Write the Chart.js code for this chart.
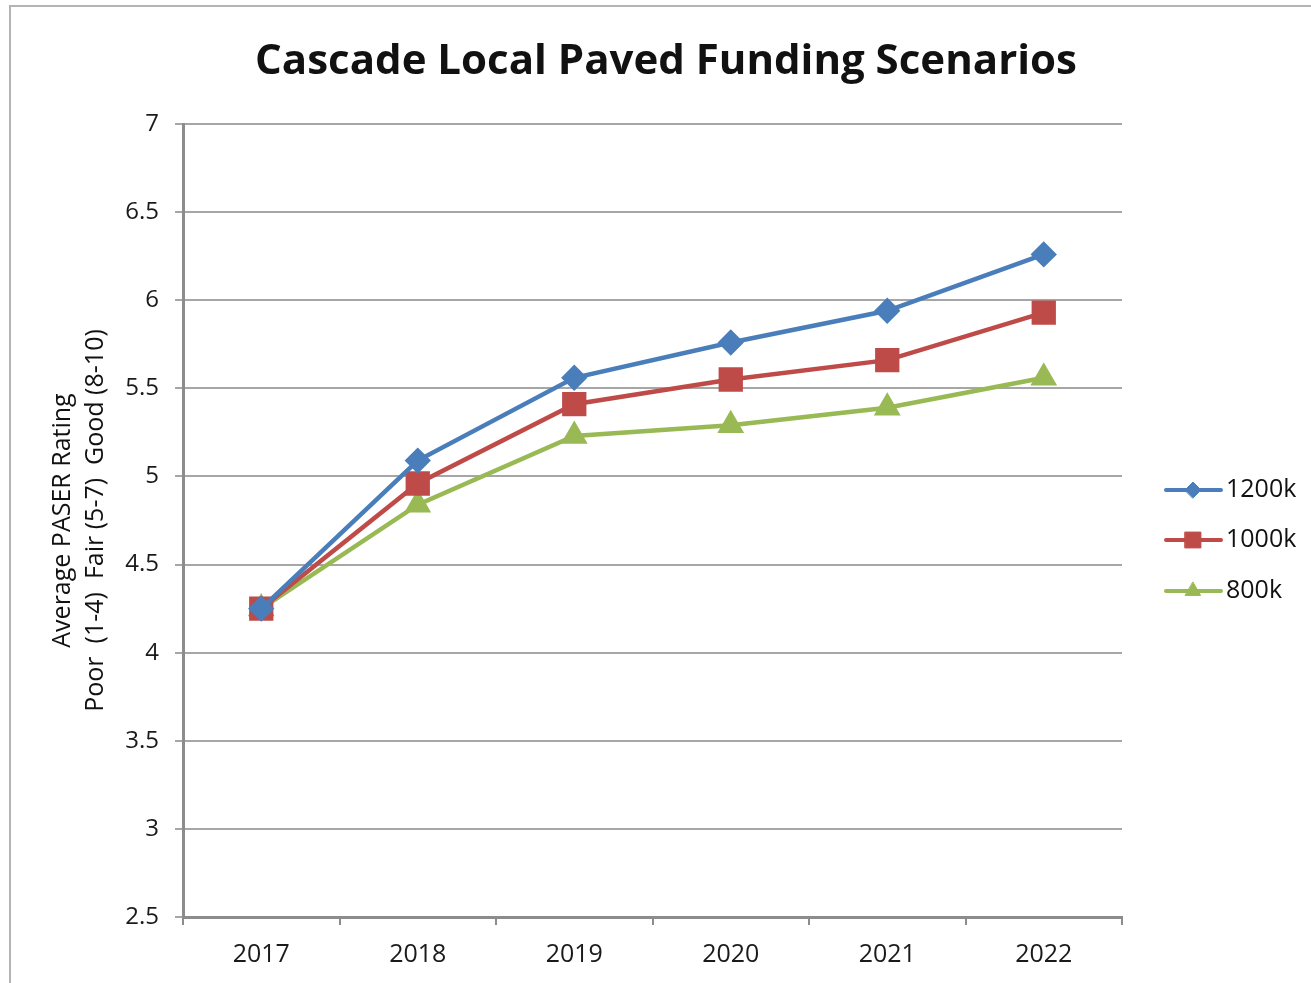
<!DOCTYPE html>
<html>
<head>
<meta charset="utf-8">
<script src="https://cdn.jsdelivr.net/npm/chart.js@4"></script>
<style>
  html, body { margin: 0; padding: 0; background: #fff; overflow: hidden; }
  #frame { position: absolute; left: 9px; top: 5px; width: 1400px; height: 1100px; border: 2px solid #b4b4b4; }
  #wrap { position: absolute; left: 0; top: 0; width: 1311px; height: 983px; }
</style>
</head>
<body>
<div id="frame"></div>
<div id="wrap"><canvas id="chart" width="1311" height="983"></canvas></div>
<script>
  const years = ['2017', '2018', '2019', '2020', '2021', '2022'];
  const s1200k = [4.25, 5.09, 5.56, 5.76, 5.94, 6.26];
  const s1000k = [4.25, 4.96, 5.41, 5.55, 5.66, 5.93];
  const s800k = [4.25, 4.84, 5.23, 5.29, 5.39, 5.56];
  const seriesNames = ['1200k', '1000k', '800k'];
  const yTitle = ['Average PASER Rating', 'Poor  (1-4)  Fair (5-7)  Good (8-10)'];
  const chartTitle = 'Cascade Local Paved Funding Scenarios';

  const fontFam = '"Open Sans", Lato, sans-serif';

  // title drawn above the plot
  const titlePlugin = {
    id: 'titleText',
    afterDraw(chart) {
      const ctx = chart.ctx;
      ctx.save();
      ctx.font = 'bold 42px ' + fontFam;
      ctx.fillStyle = '#111';
      ctx.textAlign = 'center';
      ctx.textBaseline = 'middle';
      ctx.fillText(chartTitle, 666, 62);
      ctx.restore();
    }
  };

  // legend on the right with line + marker
  const legendPlugin = {
    id: 'sideLegend',
    afterDraw(chart) {
      const ctx = chart.ctx;
      const rows = [490, 540, 591];
      chart.data.datasets.forEach((ds, i) => {
        const y = rows[i];
        ctx.save();
        ctx.strokeStyle = ds.borderColor;
        ctx.lineWidth = 4;
        ctx.lineCap = 'round';
        ctx.beginPath();
        ctx.moveTo(1166, y);
        ctx.lineTo(1221, y);
        ctx.stroke();
        ctx.fillStyle = ds.backgroundColor;
        ctx.strokeStyle = ds.borderColor;
        ctx.lineWidth = 1;
        Chart.helpers.drawPoint(ctx, {
          pointStyle: ds.pointStyle,
          radius: ds.pointRadius * 0.8,
          rotation: 0,
          borderWidth: 1
        }, 1193, y);
        ctx.fillStyle = '#111';
        ctx.font = '25px ' + fontFam;
        ctx.textAlign = 'left';
        ctx.textBaseline = 'middle';
        ctx.fillText(ds.label, 1226, y);
        ctx.restore();
      });
    }
  };

  const ctx = document.getElementById('chart').getContext('2d');
  const chart = new Chart(ctx, {
    type: 'line',
    data: {
      labels: years,
      datasets: [{
        label: seriesNames[0],
        data: s1200k,
        borderColor: '#4A7EBB',
        backgroundColor: '#4A7EBB',
        borderWidth: 4.5,
        pointStyle: 'rectRot',
        pointRadius: 10,
        tension: 0
      }, {
        label: seriesNames[1],
        data: s1000k,
        borderColor: '#BE4B48',
        backgroundColor: '#BE4B48',
        borderWidth: 4.5,
        pointStyle: 'rect',
        pointRadius: 14,
        tension: 0
      }, {
        label: seriesNames[2],
        data: s800k,
        borderColor: '#98B954',
        backgroundColor: '#98B954',
        borderWidth: 4.5,
        pointStyle: 'triangle',
        pointRadius: 11,
        tension: 0
      }]
    },
    options: {
      responsive: false,
      animation: false,
      layout: { padding: { top: 124, right: 189, left: 10, bottom: 0 } },
      plugins: {
        legend: { display: false },
        title: { display: false },
        tooltip: { enabled: false }
      },
      scales: {
        x: {
          offset: true,
          afterFit(scale) { scale.height = 66; },
          grid: {
            offset: true,
            drawOnChartArea: false,
            drawTicks: true,
            tickLength: 8,
            color: '#8c8c8c',
            lineWidth: 2
          },
          border: { color: '#8c8c8c', width: 3 },
          ticks: {
            color: '#1a1a1a',
            font: { family: fontFam, size: 25 },
            padding: 15,
            maxRotation: 0
          }
        },
        y: {
          min: 2.5,
          max: 7,
          afterFit(scale) { scale.width = 173; },
          grid: {
            color: '#a6a6a6',
            lineWidth: 2,
            tickLength: 8
          },
          border: { color: '#8c8c8c', width: 3 },
          ticks: {
            stepSize: 0.5,
            color: '#1a1a1a',
            font: { family: fontFam, size: 24 },
            padding: 16,
            callback: v => String(v)
          },
          title: {
            display: true,
            text: yTitle,
            color: '#111',
            font: { family: fontFam, size: 25, lineHeight: 1.32 },
            padding: { top: 36, bottom: 8 }
          }
        }
      }
    },
    plugins: [titlePlugin, legendPlugin]
  });
</script>
</body>
</html>
